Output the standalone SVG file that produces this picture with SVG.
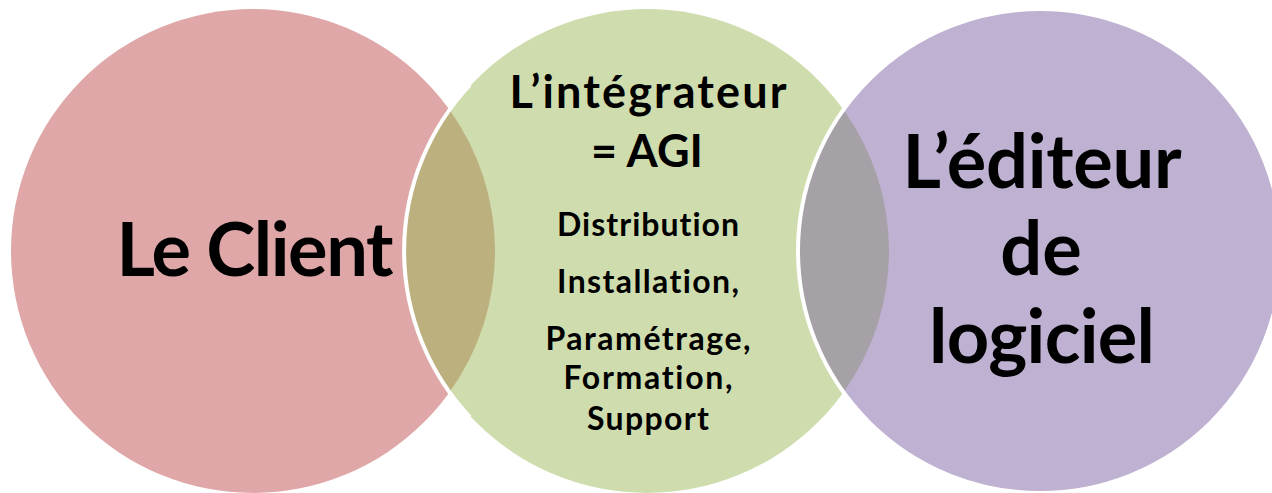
<svg xmlns="http://www.w3.org/2000/svg" width="1272" height="493" viewBox="0 0 1272 493">
<style>
  .lbl { font-family: Lato, "Open Sans", "Liberation Sans", sans-serif; font-weight: 700; fill: #000; text-anchor: middle; font-variant-ligatures: none; font-feature-settings: "liga" 0, "clig" 0; }
  .big { font-size: 74px; }
  .mid { font-size: 45px; }
  .sm { font-size: 32px; }
  .rim { fill: none; stroke: #FFFFFF; stroke-width: 4; }
</style>
<rect width="1272" height="493" fill="#FFFFFF"/>
<g id="client">
  <circle cx="253" cy="251" r="242" fill="#DFA7A7"/>
  <text class="lbl big" x="255" y="276" textLength="277" lengthAdjust="spacing">Le Client</text>
</g>
<g id="integrateur">
  <circle cx="647" cy="251" r="242" fill="#CFDDAE"/>
</g>
<g id="overlaps">
  <path d="M450 110.4 A242 242 0 0 0 450 391.6 A242 242 0 0 0 450 110.4 Z" fill="#BCB07F"/>
  <path d="M470 85 A242 242 0 0 0 470 417" class="rim"/>
</g>
<g id="editeur">
  <circle cx="1040" cy="251" r="242" fill="#BFB1D1"/>
  <path d="M843.5 109.75 A242 242 0 0 0 843.5 392.25 A242 242 0 0 0 843.5 109.75 Z" fill="#A6A0A7"/>
  <circle cx="1040" cy="251" r="242" class="rim"/>
  <text class="lbl big" x="1042" y="188" textLength="279" lengthAdjust="spacing">L’éditeur</text>
  <text class="lbl big" x="1041" y="275">de</text>
  <text class="lbl big" x="1042" y="363" textLength="226" lengthAdjust="spacing">logiciel</text>
</g>
<g id="integrateur-text">
  <text class="lbl mid" x="648" y="108" textLength="277" lengthAdjust="spacing">L’intégrateur</text>
  <text class="lbl mid" x="647" y="167">= AGI</text>
  <text class="lbl sm" x="648" y="236" textLength="182" lengthAdjust="spacing">Distribution</text>
  <text class="lbl sm" x="648" y="293" textLength="182" lengthAdjust="spacing">Installation,</text>
  <text class="lbl sm" x="648" y="350" textLength="205" lengthAdjust="spacing">Paramétrage,</text>
  <text class="lbl sm" x="648" y="389" textLength="169" lengthAdjust="spacing">Formation,</text>
  <text class="lbl sm" x="648" y="430" textLength="122" lengthAdjust="spacing">Support</text>
</g>
</svg>
